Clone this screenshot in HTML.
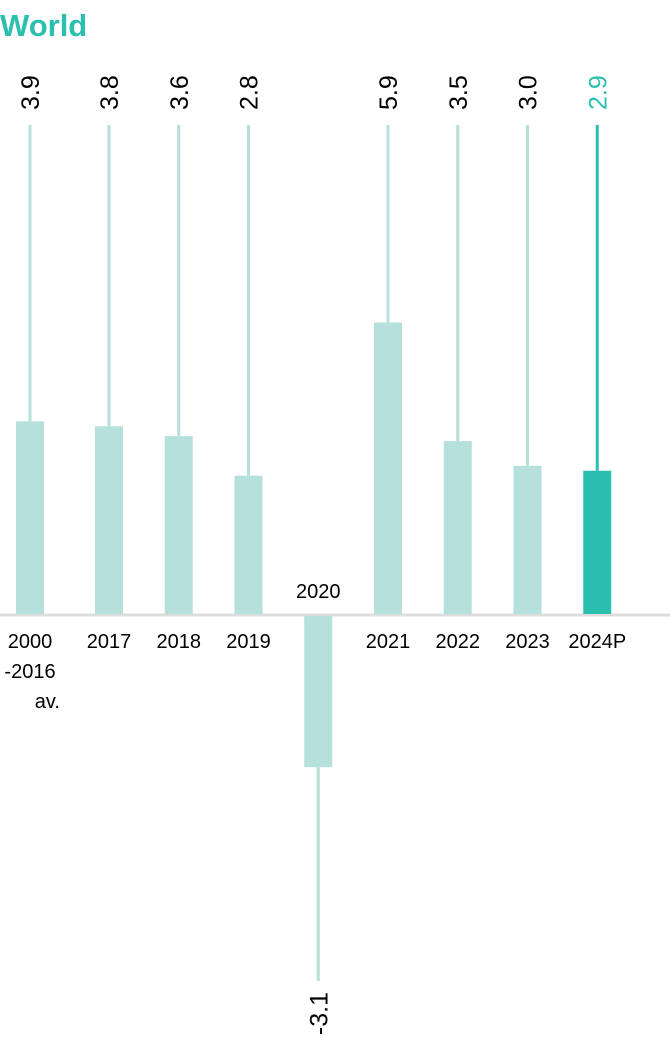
<!DOCTYPE html>
<html><head><meta charset="utf-8"><style>
body{margin:0;background:#fff;}
svg{display:block;font-family:"Liberation Sans",sans-serif;}
</style></head><body>
<svg id="chart" width="670" height="1037">
<text x="0" y="36" font-size="31" font-weight="bold" fill="#2bbfb0">World</text>
<line x1="0" y1="615" x2="670" y2="615" stroke="#dddddd" stroke-width="3"/>
</svg>
<script>
const categories = ["2000\n-2016\nav.", "2017", "2018", "2019", "2020", "2021", "2022", "2023", "2024P"];
const values = [3.9, 3.8, 3.6, 2.8, -3.1, 5.9, 3.5, 3.0, 2.9];
const valueLabels = ["3.9", "3.8", "3.6", "2.8", "-3.1", "5.9", "3.5", "3.0", "2.9"];
const highlight = [false, false, false, false, false, false, false, false, true];

const svg = document.getElementById('chart');
const NS = 'http://www.w3.org/2000/svg';
const baseY = 614, unit = 49.4, barW = 28;
const xCenter = i => i === 0 ? 30 : 109 + (i - 1) * 69.75;
const yScale = v => baseY - v * unit;
function mk(tag, attrs){const e=document.createElementNS(NS,tag);for(const k in attrs)e.setAttribute(k,attrs[k]);svg.appendChild(e);return e;}

values.forEach((v, i) => {
  const cx = xCenter(i);
  const col = highlight[i] ? '#2bbfb0' : '#b5e0dc';
  const yv = yScale(v);
  const top = Math.min(yv, baseY), h = Math.abs(yv - baseY);
  const bar = mk('rect', {x: cx - barW/2, y: v >= 0 ? top : baseY + 2, width: barW, height: v >= 0 ? h : h - 2, fill: col});
  
  
  const ln = mk('line', {x1: cx, x2: cx, y1: v >= 0 ? 125 : yv, y2: v >= 0 ? yv : 981, stroke: col, 'stroke-width': 3});
  
  
  const ly = v >= 0 ? 110 : 992;
  const t = mk('text', {x: 0, y: 0, 'font-size': 25, fill: highlight[i] ? '#2bbfb0' : '#000', 'text-anchor': v >= 0 ? 'start' : 'end', transform: `translate(${cx + 9},${ly}) rotate(-90)`});
  t.textContent = valueLabels[i];
  
  
  const lines = categories[i].split('\n');
  lines.forEach((s, j) => {
    const c = mk('text', {x: cx, y: v >= 0 ? 648 + j * 30 : 598, 'font-size': 20, fill: '#000', 'text-anchor': j === 2 ? 'end' : 'middle'});
    if (j === 2) c.setAttribute('x', cx + 30);
    c.textContent = s;
    
    
  });
});
</script>
</body></html>
